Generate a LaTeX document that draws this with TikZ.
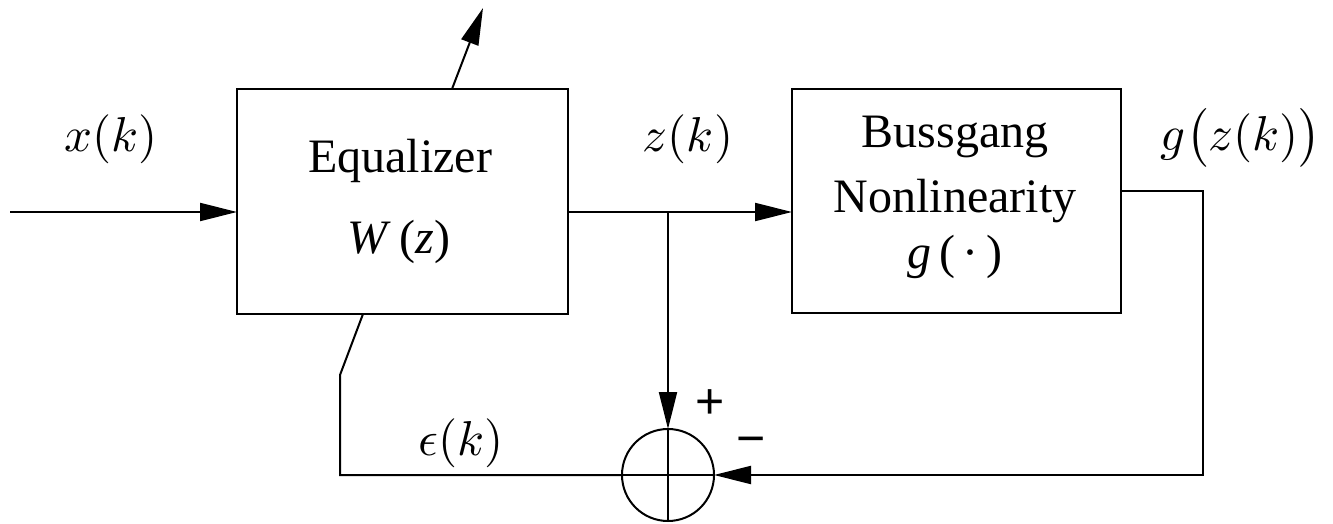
\documentclass[tikz,border=0pt]{standalone}
\usepackage{amsmath}
\usepackage[no-math]{fontspec}
\setmainfont{Liberation Serif}
\setsansfont{Liberation Sans}
\usetikzlibrary{arrows.meta}
\begin{document}
\begin{tikzpicture}[x=1pt,y=-1pt,
  line width=2pt,
  blk/.style={draw, line width=2pt, inner sep=0pt, outer sep=0pt},
  txt/.style={anchor=base, inner sep=0pt, font=\fontsize{48}{58}\selectfont},
  mth/.style={anchor=base, inner sep=0pt, scale=4.9, transform shape},
  arr/.style={-{Triangle[length=37pt,width=18pt]}},
  sgn/.style={anchor=center, inner sep=0pt, font=\fontsize{50}{58}\selectfont\sffamily}]
\useasboundingbox (0,0) rectangle (1333,524);
% blocks
\node[blk, minimum width=331pt, minimum height=225pt] (eq) at (402.5,201.5) {};
\node[blk, minimum width=329pt, minimum height=224pt] (bg) at (956.5,201) {};
\node[blk, circle, minimum size=92pt] (sum) at (668,475) {};
\draw (sum.north) -- (sum.south);
\draw (sum.west) -- (sum.east);
% coordinates
\coordinate (in) at (10,212);
\coordinate (j) at (668,212);
\coordinate (fb) at (1203,191);
\coordinate (e1) at (340,375);
\coordinate (e2) at (363,314);
\coordinate (t0) at (452,89);
\coordinate (t1) at (483,8);
% connectors
\draw[arr] (in) -- (in -| eq.west);
\draw[arr] (j -| eq.east) -- (j -| bg.west);
\draw[arr] (j) -- (sum.north);
\draw[arr] (fb -| bg.east) -- (fb) |- (sum.east);
\draw (sum.west) -| (e1) -- (e2);
\draw[arr] (t0) -- (t1);
% labels
\node[mth] (xl) at (111,152) {$x(k)$};
\node[mth] (zl) at (688,152) {$z(k)$};
\node[mth] (gl) at (1241,150) {$g\bigl(z(k)\bigr)$};
\node[mth] (el) at (461,455) {$\epsilon(k)$};
\node[txt] (eqt) at (400,172) {Equalizer};
\node[txt] (eqw) at (399,253) {\textit{W}\,(\textit{z})};
\node[txt] (bgt1) at (955,148) {Bussgang};
\node[txt] (bgt2) at (955,212) {Nonlinearity};
\node[txt] (bgt3) at (955,268) {\textit{g}\,(\,·\,)};
\node[sgn] (plus) at (710,404) {+};
\node[sgn] (minus) at (751,446) {−};
\end{tikzpicture}
\end{document}
